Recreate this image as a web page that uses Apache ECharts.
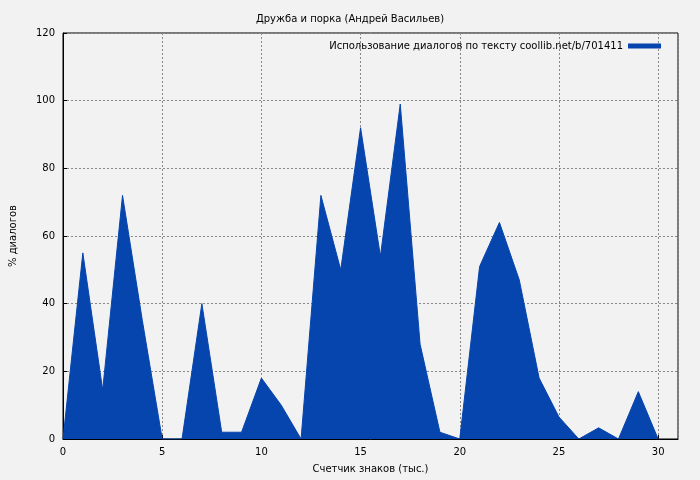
<!DOCTYPE html>
<html><head><meta charset="utf-8">
<script src="https://cdn.jsdelivr.net/npm/echarts@6/dist/echarts.min.js"></script>
<style>html,body{margin:0;background:#f2f2f2}#c{width:700px;height:480px}</style>
</head><body><div id="c"></div>
<script>
const xValues = [0,1,2,3,4,5,6,7,8,9,10,11,12,13,14,15,16,17,18,19,20,21,22,23,24,25,26,27,28,29,30];
const usage = [0,55,14.5,72,35,0,0,40,2,2,18,10,0,72,50,92,54,99,28,2,0,51,64,47,18,6.5,0,3.3,0,14,0];
const titleText = 'Дружба и порка (Андрей Васильев)';
const seriesName = 'Использование диалогов по тексту coollib.net/b/701411';
const xName = 'Счетчик знаков (тыс.)';
const yName = '% диалогов';
const chart = echarts.init(document.getElementById('c'));
const grid = {show:false};
chart.setOption({
  backgroundColor:'#f2f2f2',
  animation:false,
  textStyle:{fontFamily:'DejaVu Sans'},
  title:{text:titleText,left:'center',top:9,textStyle:{fontSize:10,fontWeight:'normal',color:'#000'}},
  legend:{right:34,top:36,itemWidth:33,itemHeight:5,icon:'rect',itemGap:8,align:'right',
    textStyle:{fontSize:10,color:'#000'},data:[seriesName]},
  grid:{left:61,right:22,top:33,bottom:41,show:true,borderColor:'#000',borderWidth:1},
  xAxis:{type:'value',min:0,max:31,interval:5,name:xName,nameLocation:'middle',nameGap:25,
    nameTextStyle:{fontSize:10,color:'#000'},
    axisLine:{lineStyle:{color:'#000'}},axisTick:{inside:true,length:4,lineStyle:{color:'#000'}},
    axisLabel:{fontSize:10,color:'#000',showMaxLabel:false},
    splitLine:{lineStyle:{type:[2,2],color:'#888'}}},
  yAxis:{type:'value',min:0,max:120,interval:20,name:yName,nameLocation:'middle',nameGap:45,
    nameTextStyle:{fontSize:10,color:'#000'},
    axisLine:{show:true,lineStyle:{color:'#000'}},axisTick:{inside:true,length:4,lineStyle:{color:'#000'}},
    axisLabel:{fontSize:10,color:'#000'},
    splitLine:{lineStyle:{type:[2,2],color:'#888'}}},
  series:[{name:seriesName,type:'line',data:xValues.map((x,i)=>[x,usage[i]]),
    symbol:'none',lineStyle:{width:1,color:'#0645ad'},itemStyle:{color:'#0645ad'},
    areaStyle:{color:'#0645ad',opacity:1}}]
});
</script></body></html>
